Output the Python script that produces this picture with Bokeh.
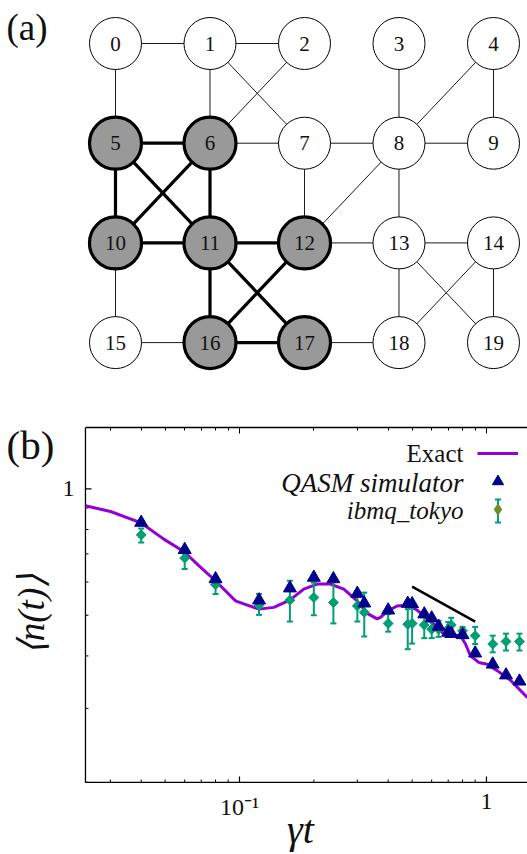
import numpy as np
from bokeh.plotting import figure
from bokeh.models import (Range1d, Label, FixedTicker, LogAxis, Legend, LegendItem,
                          ColumnDataSource, Whisker, TeeHead)
from bokeh.layouts import column
from bokeh.embed import file_html
from bokeh.resources import INLINE
from bokeh.core.properties import value

SERIF = "Liberation Serif"
PURPLE = "#9400d3"
NAVY = "#00008b"
TEAL = "#009e73"
OLIVE = "#6b8e23"
GREY = "#999999"
INK = "#111111"

# ---------------- (a) coupling graph ----------------
node_ids = list(range(20))
node_col = [0, 1, 2, 3, 4, 0, 1, 2, 3, 4, 0, 1, 2, 3, 4, 0, 1, 2, 3, 4]
node_row = [0, 0, 0, 0, 0, 1, 1, 1, 1, 1, 2, 2, 2, 2, 2, 3, 3, 3, 3, 3]
active_nodes = [5, 6, 10, 11, 12, 16, 17]
thin_edges = [(0, 1), (1, 2), (0, 5), (1, 6), (1, 7), (2, 6), (3, 8), (4, 8), (4, 9),
              (6, 7), (7, 8), (8, 9), (7, 12), (8, 12), (8, 13), (12, 13), (13, 14),
              (10, 15), (13, 18), (13, 19), (14, 18), (14, 19), (15, 16), (17, 18)]
thick_edges = [(5, 6), (5, 10), (5, 11), (6, 10), (6, 11), (10, 11), (11, 12),
               (11, 16), (11, 17), (12, 16), (16, 17)]

# ---------------- (b) data ----------------
exact_t = [0.02379, 0.03004, 0.03973, 0.04936, 0.05971, 0.06842, 0.07991, 0.09634,
           0.1041, 0.1197, 0.1377, 0.1598, 0.1821, 0.2063, 0.2335, 0.2645, 0.2996,
           0.3289, 0.3609, 0.3724, 0.3984, 0.4349, 0.4801, 0.5241, 0.5662, 0.6216,
           0.6616, 0.7264, 0.7847, 0.8222, 0.8615, 0.9307, 1.0065, 1.105, 1.251, 1.466]
exact_n = [0.911, 0.883, 0.831, 0.759, 0.708, 0.656, 0.604, 0.541,
           0.532, 0.517, 0.522, 0.543, 0.577, 0.593, 0.593, 0.577, 0.541,
           0.505, 0.490, 0.494, 0.512, 0.526, 0.529, 0.514, 0.494, 0.472,
           0.455, 0.449, 0.447, 0.427, 0.400, 0.386, 0.382, 0.369, 0.350, 0.318]

sample_t = [0.04, 0.06, 0.08, 0.12, 0.16, 0.2, 0.24, 0.3, 0.32, 0.4, 0.48, 0.5,
            0.56, 0.6, 0.64, 0.7, 0.72, 0.8, 0.9, 1.06, 1.2, 1.36]
qasm_n = [0.831, 0.716, 0.610, 0.543, 0.580, 0.615, 0.610, 0.563, 0.534, 0.514, 0.533, 0.532,
          0.503, 0.492, 0.470, 0.455, 0.452, 0.449, 0.406, 0.382, 0.360, 0.348]
ibmq_n = [0.777, 0.684, 0.591, 0.528, 0.543, 0.551, 0.536, 0.526, 0.508, 0.478, 0.476, 0.478,
          0.474, 0.463, 0.463, 0.464, 0.474, 0.459, 0.447, 0.427, 0.433, 0.433]
ibmq_lo = [0.745, 0.644, 0.562, 0.501, 0.483, 0.500, 0.478, 0.483, 0.445, 0.457, 0.415, 0.428,
           0.441, 0.441, 0.444, 0.444, 0.454, 0.441, 0.427, 0.408, 0.412, 0.412]
ibmq_hi = [0.804, 0.701, 0.598, 0.562, 0.604, 0.598, 0.610, 0.566, 0.566, 0.503, 0.517, 0.522,
           0.498, 0.485, 0.485, 0.482, 0.493, 0.469, 0.469, 0.447, 0.452, 0.452]

guide_t = [0.5, 0.9]
guide_n = [0.585, 0.483]

x_major_ticks = [0.1, 1]
x_minor_ticks = [0.03, 0.04, 0.05, 0.06, 0.07, 0.08, 0.09, 0.2, 0.3, 0.4, 0.5, 0.6, 0.7, 0.8, 0.9]
x_tick_labels = ["10\u207b\u00b9", "1"]
y_major_ticks = [1]
y_minor_ticks = [0.2, 0.3, 0.4, 0.5, 0.6, 0.7, 0.8, 0.9]
y_tick_labels = ["1"]

x_title = "\u03b3t"
y_title = "\u27e8n(t)\u27e9"
legend_texts = ["Exact", "QASM simulator", "ibmq_tokyo"]

# axis box of panel (b), in data units
T_MIN, T_MAX = 0.02379, 1.466
N_MIN, N_MAX = 0.19985, 1.3996

# ================= figure (a) =================
pa = figure(width=527, height=400, x_range=Range1d(-1.2169, 4.3598), y_range=Range1d(3.5807, -0.4313),
            output_backend="svg", toolbar_location=None, min_border=0,
            x_axis_location=None, y_axis_location=None)
pa.grid.visible = False
pa.outline_line_color = None


def edge_source(edges):
    return ColumnDataSource(dict(
        x0=[node_col[a] for a, b in edges], y0=[node_row[a] for a, b in edges],
        x1=[node_col[b] for a, b in edges], y1=[node_row[b] for a, b in edges]))


pa.segment("x0", "y0", "x1", "y1", source=edge_source(thin_edges), line_color="#1a1a1a", line_width=1)
pa.segment("x0", "y0", "x1", "y1", source=edge_source(thick_edges), line_color="black", line_width=3.2)

node_src = ColumnDataSource(dict(
    x=node_col, y=node_row, label=[str(i) for i in node_ids],
    fill=[GREY if i in active_nodes else "white" for i in node_ids],
    lw=[3.2 if i in active_nodes else 1.0 for i in node_ids]))
pa.scatter("x", "y", source=node_src, marker="circle", size=52, fill_color="fill",
           line_color="black", line_width="lw")
pa.text("x", "y", text="label", source=node_src, text_font=value(SERIF), text_font_size="21px",
        text_align="center", text_baseline="middle", text_color=INK)

pa.add_layout(Label(x=6, y=394, x_units="screen", y_units="screen", text="(a)",
                    text_font=SERIF, text_font_size="37px", text_baseline="top", text_align="left",
                    text_color=INK))

# ================= figure (b) =================
# frame spans the canvas from x=0 and down to the bottom; only the top border is a panel axis
pb = figure(width=527, height=454, x_axis_type="log", y_axis_type="log",
            x_range=Range1d(0.010774, 1.466), y_range=Range1d(0.13464, 1.3996),
            x_axis_location=None, y_axis_location=None,
            output_backend="svg", toolbar_location=None,
            min_border_left=0, min_border_right=0, min_border_bottom=0, min_border_top=27)
pb.outline_line_color = None
pb.grid.visible = False

xt = FixedTicker(ticks=x_major_ticks, minor_ticks=x_minor_ticks)
top_axis = LogAxis(ticker=xt, bounds=(T_MIN, T_MAX), major_label_text_font_size="1px",
                   major_label_text_alpha=0, major_label_standoff=0,
                   major_tick_in=6, major_tick_out=0, minor_tick_in=3, minor_tick_out=0,
                   axis_line_color="black", axis_line_width=1.3,
                   major_tick_line_color="black", minor_tick_line_color="black")
pb.add_layout(top_axis, "above")

# left and bottom borders of the axis box with their inward ticks (through the scales)
pb.segment(x0=[T_MIN, T_MIN], y0=[N_MIN, N_MIN], x1=[T_MAX, T_MIN], y1=[N_MIN, N_MAX],
           line_color="black", line_width=1.3)
pb.ray(x=x_major_ticks, y=[N_MIN] * len(x_major_ticks), length=6, length_units="screen",
       angle=np.pi / 2, line_color="black", line_width=1.2)
pb.ray(x=x_minor_ticks, y=[N_MIN] * len(x_minor_ticks), length=3, length_units="screen",
       angle=np.pi / 2, line_color="black", line_width=1.0)
pb.ray(x=[T_MIN] * len(y_major_ticks), y=y_major_ticks, length=6, length_units="screen",
       angle=0, line_color="black", line_width=1.2)
pb.ray(x=[T_MIN] * len(y_minor_ticks), y=y_minor_ticks, length=3, length_units="screen",
       angle=0, line_color="black", line_width=1.0)

exact_r = pb.line(exact_t, exact_n, line_color=PURPLE, line_width=3)
pb.segment(x0=sample_t, y0=ibmq_lo, x1=sample_t, y1=ibmq_hi, line_color=TEAL, line_width=2)
pb.scatter(sample_t, ibmq_lo, marker="dash", size=6, line_color=TEAL, line_width=2)
pb.scatter(sample_t, ibmq_hi, marker="dash", size=6, line_color=TEAL, line_width=2)
ibmq_key = pb.scatter(sample_t, ibmq_n, marker="diamond", size=1, fill_color=OLIVE, line_color=OLIVE)
pb.scatter(sample_t, ibmq_n, marker="square", angle=np.pi / 4, size=7, fill_color=TEAL, line_color=TEAL)
qasm_r = pb.scatter(sample_t, qasm_n, marker="triangle", size=13, fill_color=NAVY, line_color=NAVY)
pb.line(guide_t, guide_n, line_color="black", line_width=2.5)

# tick labels, positioned through the scales
for tv, tl in zip(x_major_ticks, x_tick_labels):
    pb.add_layout(Label(x=tv, y=N_MIN, text=tl, y_offset=-12, text_font=SERIF, text_font_size="24px",
                        text_align="center", text_baseline="top", text_color=INK))
for tv, tl in zip(y_major_ticks, y_tick_labels):
    pb.add_layout(Label(x=T_MIN, y=tv, text=tl, x_offset=-11, text_font=SERIF, text_font_size="24px",
                        text_align="right", text_baseline="middle", text_color=INK))

# axis titles
pb.add_layout(Label(x=300, y=3, x_units="screen", y_units="screen", text=x_title,
                    text_font=SERIF, text_font_style="italic", text_font_size="40px",
                    text_align="center", text_baseline="bottom", text_color=INK))
pb.add_layout(Label(x=31, y=240, x_units="screen", y_units="screen", text=y_title, angle=np.pi / 2,
                    text_font=SERIF, text_font_style="italic", text_font_size="37px",
                    text_align="center", text_baseline="middle", text_color=INK))

for txt, yy, style, fs in zip(legend_texts, [401, 372, 344], ["normal", "italic", "italic"],
                              ["25px", "27px", "25px"]):
    pb.add_layout(Label(x=463, y=yy, x_units="screen", y_units="screen", text=txt,
                        text_font=SERIF, text_font_style=style, text_font_size=fs,
                        text_align="right", text_baseline="middle", text_color=INK))

pb.add_layout(Label(x=6, y=433, x_units="screen", y_units="screen", text="(b)",
                    text_font=SERIF, text_font_size="41px", text_baseline="top", text_align="left",
                    text_color=INK))

# legend key error bar (screen units, under the legend diamond)
key_src = ColumnDataSource(dict(b=[497.5], lo=[332], hi=[355]))
pb.add_layout(Whisker(base="b", lower="lo", upper="hi", source=key_src, dimension="height",
                      base_units="screen", lower_units="screen", upper_units="screen",
                      line_color=TEAL, line_width=2,
                      upper_head=TeeHead(size=6, line_color=TEAL, line_width=2),
                      lower_head=TeeHead(size=6, line_color=TEAL, line_width=2)))

legend = Legend(items=[LegendItem(label=" ", renderers=[exact_r]),
                       LegendItem(label=" ", renderers=[qasm_r]),
                       LegendItem(label=" ", renderers=[ibmq_key])],
                location=(477, 331), glyph_width=41, glyph_height=28, label_height=28,
                spacing=0, padding=0, margin=0, label_standoff=0, label_width=0,
                label_text_font_size="1px", background_fill_alpha=0, border_line_alpha=0)
pb.add_layout(legend)

layout = column(pa, pb, spacing=0)
open("out.html", "w").write(file_html(layout, INLINE))
